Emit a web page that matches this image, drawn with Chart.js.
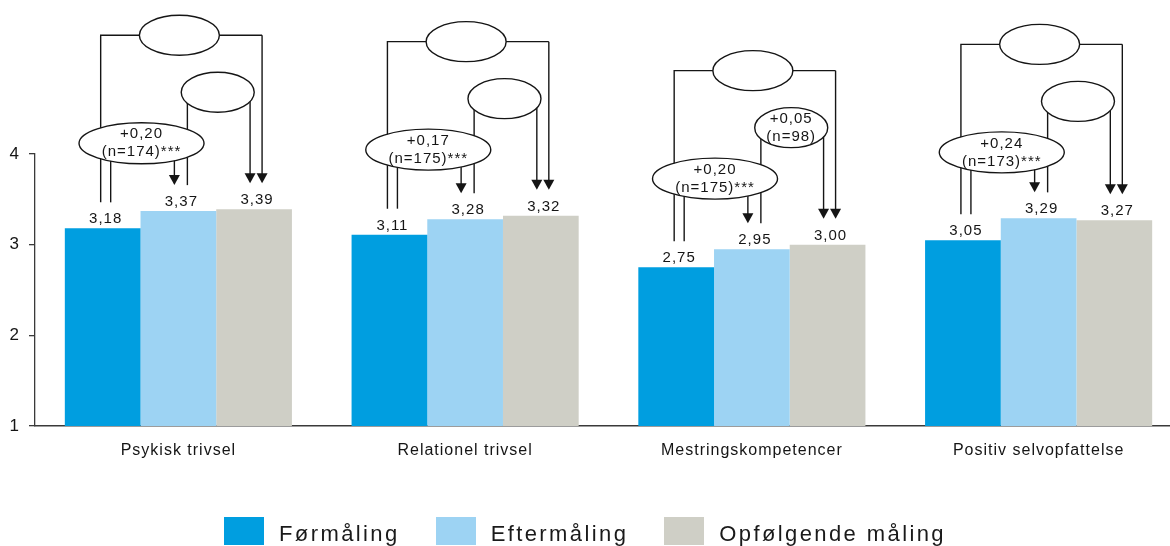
<!DOCTYPE html>
<html lang="da">
<head>
<meta charset="utf-8">
<title>Trivsel og mestring – før, efter og opfølgning</title>
<script src="https://cdn.jsdelivr.net/npm/chart.js@4/dist/chart.umd.min.js"></script>
<style>
  html, body { margin: 0; padding: 0; width: 1170px; height: 546px; overflow: hidden; background: #fff; }
  #wrap { position: relative; width: 1182px; height: 546px; }
  #legend {
    position: absolute; left: 0; top: 517px; width: 1170px;
    display: flex; justify-content: center; gap: 36px;
    font-family: 'Liberation Sans', Arial, sans-serif; font-size: 22px; letter-spacing: 2.4px; color: #1a1a1a;
  }
  .item { display: flex; align-items: flex-start; }
  .sw { width: 40px; height: 28px; margin-right: 15px; }
  .lbl { line-height: 27px; padding-top: 3px; white-space: nowrap; }
</style>
</head>
<body>
<div id="wrap">
  <canvas id="c" width="1182" height="546"></canvas>
  <div id="legend"></div>
</div>
<script>
// Categories and measured means
const categories = ['Psykisk trivsel', 'Relationel trivsel', 'Mestringskompetencer', 'Positiv selvopfattelse'];
const formaling   = [3.18, 3.11, 2.75, 3.05];
const eftermaling = [3.37, 3.28, 2.95, 3.29];
const opfolgende  = [3.39, 3.32, 3.00, 3.27];
const seriesNames = ['Førmåling', 'Eftermåling', 'Opfølgende måling'];

// Change from før to efter, and from efter to opfølgning
const changeFirst  = ['+0,20', '+0,17', '+0,20', '+0,24'];
const nFirst       = ['(n=174)***', '(n=175)***', '(n=175)***', '(n=173)***'];
const changeSecond = [null, null, '+0,05', null];
const nSecond      = [null, null, '(n=98)', null];

const yTicks = [1, 2, 3, 4];

const colors = ['#009ee0', '#9dd3f3', '#cfcfc6'];
const ink = '#151515';
const FONT = "'Liberation Sans', Arial, sans-serif";

Chart.defaults.font.family = FONT;
Chart.defaults.color = ink;

const fmt = v => v.toFixed(2).replace('.', ',');

// Spaced lettering for all canvas text
const spacing = {
  id: 'spacing',
  beforeDraw(chart) { chart.ctx.letterSpacing = '1px'; }
};

// Value labels above every bar
const valueLabels = {
  id: 'valueLabels',
  afterDatasetsDraw(chart) {
    const ctx = chart.ctx;
    ctx.save();
    ctx.font = '15px ' + FONT;
    ctx.fillStyle = ink;
    ctx.textAlign = 'center';
    ctx.textBaseline = 'alphabetic';
    chart.data.datasets.forEach((ds, i) => {
      chart.getDatasetMeta(i).data.forEach((bar, j) => {
        ctx.fillText(fmt(ds.data[j]), bar.x + 3, bar.y - 5);
      });
    });
    ctx.restore();
  }
};

// Comparison brackets: før→efter, efter→opfølgning, før→opfølgning
const brackets = {
  id: 'brackets',
  afterDraw(chart) {
    const ctx = chart.ctx;
    const m0 = chart.getDatasetMeta(0).data;
    const m1 = chart.getDatasetMeta(1).data;
    const m2 = chart.getDatasetMeta(2).data;
    const gap = 26, head = 10, hw = 5.5;

    const arrow = (x, y0, tip) => {
      ctx.beginPath();
      ctx.moveTo(x, y0);
      ctx.lineTo(x, tip - head + 1);
      ctx.stroke();
      ctx.beginPath();
      ctx.moveTo(x - hw, tip - head);
      ctx.lineTo(x + hw, tip - head);
      ctx.lineTo(x, tip);
      ctx.closePath();
      ctx.fill();
    };
    const line = pts => {
      ctx.beginPath();
      ctx.moveTo(pts[0][0], pts[0][1]);
      for (let k = 1; k < pts.length; k++) ctx.lineTo(pts[k][0], pts[k][1]);
      ctx.stroke();
    };
    const oval = (cx, cy, rx, ry, lines) => {
      ctx.beginPath();
      ctx.ellipse(cx, cy, rx, ry, 0, 0, Math.PI * 2);
      ctx.fillStyle = '#fff';
      ctx.fill();
      ctx.stroke();
      if (lines) {
        ctx.fillStyle = ink;
        ctx.font = '15px ' + FONT;
        ctx.textAlign = 'center';
        ctx.textBaseline = 'middle';
        ctx.fillText(lines[0], cx, cy - 9);
        ctx.fillText(lines[1], cx, cy + 9);
      }
      ctx.fillStyle = ink;
    };

    ctx.save();
    ctx.strokeStyle = ink;
    ctx.fillStyle = ink;
    ctx.lineWidth = 1.4;
    ctx.letterSpacing = '1px';

    for (let j = 0; j < categories.length; j++) {
      const f = m0[j], e = m1[j], o = m2[j];
      const top = Math.min(f.y, e.y, o.y);
      const bigY = top - 174, smallY = top - 117, lowY = top - 66;

      // før → opfølgning
      line([[f.x - 2, f.y - gap], [f.x - 2, bigY], [o.x + 8, bigY]]);
      arrow(o.x + 8, bigY, o.y - gap);
      // efter → opfølgning
      line([[e.x + 9, e.y - gap], [e.x + 9, smallY]]);
      arrow(o.x - 4, smallY, o.y - gap);
      // før → efter
      line([[f.x + 8, f.y - gap], [f.x + 8, lowY]]);
      arrow(e.x - 4, lowY, e.y - gap);

      oval(e.x + 1, bigY, 40, 20, null);
      oval((e.x + o.x) / 2 + 1.5, smallY, 36.5, 20,
           changeSecond[j] ? [changeSecond[j], nSecond[j]] : null);
      oval((f.x + e.x) / 2 + 1, lowY, 62.5, 20.5, [changeFirst[j], nFirst[j]]);
    }
    ctx.restore();
  }
};

new Chart(document.getElementById('c'), {
  type: 'bar',
  data: {
    labels: categories,
    datasets: [
      { label: seriesNames[0], data: formaling,   backgroundColor: colors[0] },
      { label: seriesNames[1], data: eftermaling, backgroundColor: colors[1] },
      { label: seriesNames[2], data: opfolgende,  backgroundColor: colors[2] }
    ]
  },
  options: {
    responsive: false,
    animation: false,
    devicePixelRatio: 1,
    layout: { padding: { top: 154, left: 0, right: 0, bottom: 0 } },
    datasets: { bar: { categoryPercentage: 0.792, barPercentage: 1.0, borderWidth: 0 } },
    plugins: { legend: { display: false }, tooltip: { enabled: false } },
    scales: {
      x: {
        grid: { display: false },
        border: { display: true, color: '#3a3a3a', width: 1.5 },
        ticks: { font: { size: 16 }, color: ink, padding: 7, maxRotation: 0 },
        afterFit: s => { s.height = 120; }
      },
      y: {
        min: yTicks[0],
        max: yTicks[yTicks.length - 1],
        afterBuildTicks: s => { s.ticks = yTicks.map(v => ({ value: v })); },
        grid: { drawOnChartArea: false, drawTicks: true, tickLength: 6, color: '#3a3a3a', lineWidth: 1.3 },
        border: { display: true, color: '#3a3a3a', width: 1.3 },
        ticks: { font: { size: 17 }, color: ink, padding: 9 },
        afterFit: s => { s.width = 35; }
      }
    }
  },
  plugins: [spacing, valueLabels, brackets]
});

// Legend
const legend = document.getElementById('legend');
seriesNames.forEach((name, i) => {
  const item = document.createElement('div');
  item.className = 'item';
  const sw = document.createElement('div');
  sw.className = 'sw';
  sw.style.background = colors[i];
  const lbl = document.createElement('div');
  lbl.className = 'lbl';
  lbl.textContent = name;
  item.appendChild(sw);
  item.appendChild(lbl);
  legend.appendChild(item);
});
</script>
</body>
</html>
